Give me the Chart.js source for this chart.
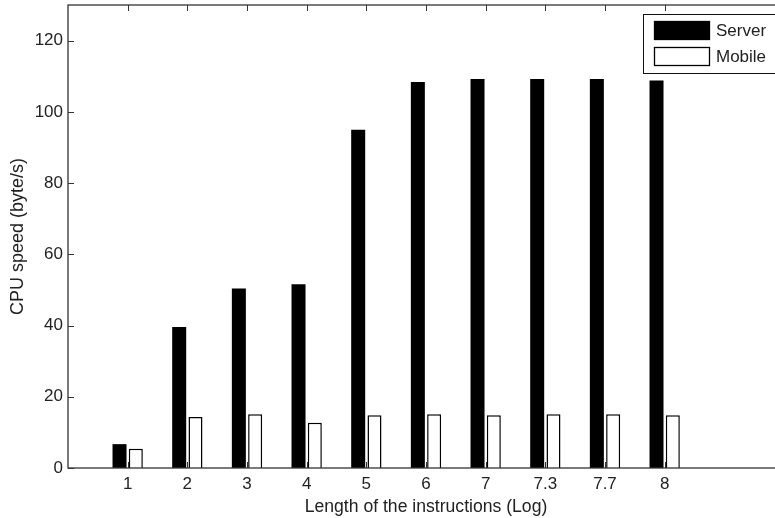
<!DOCTYPE html>
<html>
<head>
<meta charset="utf-8">
<script src="https://cdn.jsdelivr.net/npm/chart.js@4"></script>
<style>
  html, body { margin: 0; padding: 0; background: #fff; overflow: hidden; }
  #wrap { width: 775px; height: 518px; overflow: hidden; }
  canvas { display: block; }
</style>
</head>
<body>
<div id="wrap"><canvas id="chart" width="786" height="518"></canvas></div>
<script>
// Tick labels on the x axis (instruction length, log)
const categories = ["1", "2", "3", "4", "5", "6", "7", "7.3", "7.7", "8"];

// CPU speed (byte/s)
const serverValues = [6.7, 39.6, 50.4, 51.6, 95.0, 108.4, 109.2, 109.2, 109.2, 108.8];
const mobileValues = [5.4, 14.3, 15.1, 12.7, 14.8, 15.1, 14.8, 15.1, 15.1, 14.8];

const yTicks = [0, 20, 40, 60, 80, 100, 120];

const FONT = "'Liberation Sans', Arial, sans-serif";
const AXIS = "#333";

// bars sit at x = 1..10 on a 0..12 axis, like the matlab figure
const toPoints = vals => vals.map((v, i) => ({ x: i + 1, y: v }));

// box round the axes with inward ticks (top and bottom, left and right)
const axesBox = {
  id: "axesBox",
  afterDatasetsDraw(chart) {
    const { ctx, chartArea: a, scales } = chart;
    ctx.save();
    ctx.strokeStyle = AXIS;
    ctx.lineWidth = 1.3;
    ctx.strokeRect(a.left, a.top, a.right - a.left, a.bottom - a.top);

    ctx.lineWidth = 1;
    ctx.beginPath();
    scales.x.ticks.forEach(t => {
      const px = Math.round(scales.x.getPixelForValue(t.value)) + 0.5;
      ctx.moveTo(px, a.bottom); ctx.lineTo(px, a.bottom - 6);
      ctx.moveTo(px, a.top); ctx.lineTo(px, a.top + 6);
    });
    scales.y.ticks.forEach(t => {
      const py = Math.round(scales.y.getPixelForValue(t.value)) + 0.5;
      ctx.moveTo(a.left, py); ctx.lineTo(a.left + 6, py);
      ctx.moveTo(a.right, py); ctx.lineTo(a.right - 6, py);
    });
    ctx.stroke();
    ctx.restore();
  }
};

// boxed legend in the top right corner
const boxLegend = {
  id: "boxLegend",
  afterDraw(chart) {
    const { ctx } = chart;
    const x = 643.5, y = 14.5, w = 138, h = 59;
    ctx.save();
    ctx.fillStyle = "#fff";
    ctx.fillRect(x, y, w, h);
    ctx.strokeStyle = "#111";
    ctx.lineWidth = 1;
    ctx.strokeRect(x, y, w, h);

    ctx.font = "17px " + FONT;
    ctx.textBaseline = "middle";
    chart.data.datasets.forEach((ds, i) => {
      const sy = 21 + i * 26;
      ctx.fillStyle = ds.backgroundColor;
      ctx.fillRect(654, sy, 56, 19);
      ctx.strokeStyle = "#000";
      ctx.lineWidth = 1.3;
      ctx.strokeRect(654.5, sy + 0.5, 55, 18);
      ctx.fillStyle = "#222";
      ctx.fillText(ds.label, 716, sy + 10);
    });
    ctx.restore();
  }
};

new Chart(document.getElementById("chart"), {
  type: "bar",
  data: {
    datasets: [
      {
        label: "Server",
        data: toPoints(serverValues),
        backgroundColor: "#000",
        borderWidth: 0
      },
      {
        label: "Mobile",
        data: toPoints(mobileValues),
        backgroundColor: "#fff",
        borderColor: "#000",
        borderWidth: 1.5
      }
    ]
  },
  options: {
    responsive: false,
    animation: false,
    categoryPercentage: 0.546,
    barPercentage: 0.86,
    layout: { padding: { top: 5, right: 2, left: 0, bottom: 0 } },
    plugins: {
      legend: { display: false },
      tooltip: { enabled: false }
    },
    scales: {
      x: {
        type: "linear",
        offset: false,
        min: 0,
        max: 12,
        afterFit: s => { s.height = 50; s.paddingLeft = 0; s.paddingRight = 0; },
        afterBuildTicks: s => { s.ticks = categories.map((c, i) => ({ value: i + 1 })); },
        grid: { display: false, drawTicks: false },
        border: { display: false },
        ticks: {
          padding: 6,
          color: "#222",
          font: { family: FONT, size: 17 },
          maxRotation: 0,
          autoSkip: false,
          callback: v => categories[v - 1]
        },
        title: {
          display: true,
          text: "Length of the instructions (Log)",
          color: "#222",
          font: { family: FONT, size: 17.6 },
          padding: { top: 0, bottom: 0 }
        }
      },
      y: {
        min: 0,
        max: 130,
        afterFit: s => { s.width = 68; s.paddingTop = 0; s.paddingBottom = 0; },
        afterBuildTicks: s => { s.ticks = yTicks.map(v => ({ value: v })); },
        grid: { display: false, drawTicks: false },
        border: { display: false },
        ticks: {
          padding: 5,
          color: "#222",
          font: { family: FONT, size: 17 }
        },
        title: {
          display: true,
          text: "CPU speed (byte/s)",
          color: "#222",
          font: { family: FONT, size: 18 },
          padding: { top: 7, bottom: 0 }
        }
      }
    }
  },
  plugins: [axesBox, boxLegend]
});
</script>
</body>
</html>
